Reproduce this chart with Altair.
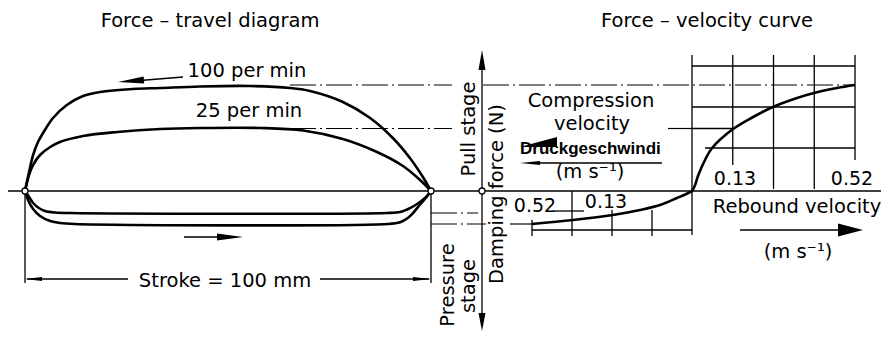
import altair as alt
import pandas as pd

# ---------------- data ----------------
# Force-travel loops: stroke (mm) vs damping force (N)
up100_stroke = [0, 1.0, 2.0, 3.2, 4.9, 6.9, 10.3, 14.3, 18.5, 26.6, 33.3, 43.1, 55.4, 65.3, 70.2, 78.3, 85.0, 90.6, 94.8, 98.0, 100]
up100_force = [0, 190, 360, 490, 610, 730, 860, 950, 990, 1020, 1030, 1045, 1050, 1030, 1000, 890, 730, 530, 330, 140, 0]
up25_stroke = [0, 1.0, 2.0, 3.7, 6.2, 8.6, 14.3, 22.7, 33.3, 43.1, 57.9, 68.5, 78.3, 86.7, 93.1, 97.3, 100]
up25_force = [0, 160, 260, 360, 440, 490, 550, 590, 620, 630, 630, 605, 520, 390, 250, 110, 0]
lo25_stroke = [0, 1.0, 2.0, 3.4, 4.9, 7.4, 11.1, 89.2, 92.4, 94.1, 95.8, 97.3, 98.8, 100]
lo25_force = [0, -60, -120, -170, -200, -215, -220, -220, -210, -185, -150, -110, -60, 0]
lo100_stroke = [0, 0.74, 2.0, 3.7, 6.2, 8.6, 12.3, 89.2, 92.4, 94.3, 95.6, 97.0, 98.5, 100]
lo100_force = [0, -90, -180, -250, -300, -320, -330, -330, -312, -270, -220, -150, -80, 0]

# Force-velocity curve: velocity (m/s, negative = compression) vs force (N)
fv_velocity = [-0.52, -0.387, -0.257, -0.169, -0.104, -0.049, -0.012, 0, 0.01, 0.019, 0.0415, 0.064, 0.131, 0.195, 0.258, 0.335, 0.389, 0.4625, 0.52]
fv_force = [-330, -290, -240, -190, -140, -70, -20, 0, 60, 150, 310, 430, 620, 740, 840, 930, 980, 1030, 1060]

grid_velocity = [0, 0.13, 0.26, 0.39, 0.52]
level_100 = 1060   # force level at 100 per min
level_25 = 625     # force level at 25 per min
level_lo25 = -220
level_lo100 = -330

# ---------------- layout (diagram coordinates) ----------------
def xs(s):  # stroke mm -> diagram x
    return 25 + 4.06 * s

def xv(v):  # velocity m/s -> diagram x
    return 692 + (313.5 if v >= 0 else 307.7) * v

def yf(F):  # force N -> diagram y
    return 191 - F / 10.0

curves = []
for name, S, F in [("up100", up100_stroke, up100_force), ("up25", up25_stroke, up25_force),
                   ("lo25", lo25_stroke, lo25_force), ("lo100", lo100_stroke, lo100_force)]:
    for i, (s, f) in enumerate(zip(S, F)):
        curves.append({"id": name, "i": i, "x": xs(s), "y": yf(f)})
for i, (v, f) in enumerate(zip(fv_velocity, fv_force)):
    curves.append({"id": "fv", "i": i, "x": xv(v), "y": yf(f)})
curves = pd.DataFrame(curves)

solid = [
    (8, yf(0), 881, yf(0)),                 # zero line
    (482, 56, 482, 326),                    # damping force axis
    (xs(0), yf(0), xs(0), 283), (xs(100), yf(0), xs(100), 283),
    (xs(0) + 2, 279, 128, 279), (320, 279, xs(100) - 2, 279),
    (183, 77, 140, 80.5),                   # arrow shaft 100 per min
    (184, 237, 222, 237),                   # arrow shaft under loops
    (740, 230, 845, 230),                   # rebound arrow shaft
    (530, 163, 662, 163),                   # compression arrow line
    (xv(0), yf(625), xv(0.13), yf(625)),
    (xv(0), yf(1250), xv(0.52), yf(1250)),
    (xv(0), yf(840), xv(0.52), yf(840)),
    (705, yf(430), xv(0.52), yf(430)),
    (xv(-0.52), yf(-390), xv(0), yf(-390)),
    (553, yf(-200), 584, yf(-200)),
]
pos_bottom = [235, 165, 189, 189, 160]
for v, b in zip(grid_velocity, pos_bottom):
    solid.append((xv(v), 55, xv(v), b))
neg_top = [191, 210, 210, 191, 220]
for v, t in zip(grid_velocity[1:], neg_top[1:]):
    solid.append((xv(-v), t, xv(-v), 236))
solid = pd.DataFrame(solid, columns=["x", "y", "x2", "y2"])

dashdot = pd.DataFrame([
    (290, yf(level_100), 452, yf(level_100)),
    (483, yf(level_100), xv(0.52), yf(level_100)),
    (290, yf(level_25), 452, yf(level_25)),
    (668, yf(level_25), xv(0), yf(level_25)),
    (xs(100), yf(level_lo25), 478, yf(level_lo25)),
    (xs(100), yf(level_lo100), 486, yf(level_lo100)),
    (510, yf(level_lo100), xv(-0.52), yf(level_lo100)),
], columns=["x", "y", "x2", "y2"])

def head(L, w):
    return f"M0,0L{w/2},{L}L{-w/2},{L}Z"

def harpoon(L, w):
    return f"M0,0L{w},{L}L0,{L}Z"

heads = pd.DataFrame([
    (482, 50, head(20, 7), 0),
    (482, 331, head(18, 7), 180),
    (118, 82, head(26, 7), 265.6),
    (243, 237, head(26, 7), 90),
    (xs(0), 279, head(17, 4), 270),
    (xs(100), 279, head(18, 4), 90),
    (863, 230, head(25, 13), 90),
    (520, 147, harpoon(37, 10), 270),
    (520, 163, head(20, 4), 270),
], columns=["x", "y", "path", "ang"])

dots = pd.DataFrame({"x": [xs(0), xs(100), 482], "y": [yf(0)] * 3})

texts = pd.DataFrame([
    ("Force – travel diagram", 210, 26.5, 19.5),
    ("Force – velocity curve", 707, 26.5, 19.5),
    ("100 per min", 247, 77, 19.5),
    ("25 per min", 249, 117, 19.5),
    ("Stroke = 100 mm", 225, 287, 19.5),
    ("Compression", 591, 107, 19.5),
    ("velocity", 592, 130, 19.5),
    ("(m s⁻¹)", 590, 178, 19.5),
    ("0.13", 735, 185, 19),
    ("0.52", 852, 185, 19),
    ("0.52", 535, 212, 19),
    ("0.13", 606, 208, 19),
    ("Rebound velocity", 797, 213, 19.5),
    ("(m s⁻¹)", 798, 258, 19.5),
], columns=["t", "x", "y", "fs"])

vtexts = pd.DataFrame([
    ("Pull stage", 475, 129),
    ("Damping force (N)", 503, 194),
    ("Pressure", 454, 285),
    ("stage", 475, 286),
], columns=["t", "x", "y"])

btext = pd.DataFrame([("Druckgeschwindi", 520, 154)], columns=["t", "x", "y"])

# ---------------- chart ----------------
XS = alt.Scale(domain=[8, 881], nice=False, zero=False)
YS = alt.Scale(domain=[8, 332], nice=False, zero=False, reverse=True)
X = alt.X("x:Q", scale=XS, axis=None)
Y = alt.Y("y:Q", scale=YS, axis=None)

rules_s = alt.Chart(solid).mark_rule(color="black", strokeWidth=1.3, strokeCap="butt").encode(
    x=X, y=Y, x2="x2:Q", y2="y2:Q")
rules_d = alt.Chart(dashdot).mark_rule(color="black", strokeWidth=1.2, strokeDash=[26, 4, 2, 4]).encode(
    x=X, y=Y, x2="x2:Q", y2="y2:Q")
lines = alt.Chart(curves).mark_line(color="black", strokeWidth=2.6, interpolate="catmull-rom").encode(
    x=X, y=Y, detail="id:N", order="i:Q")
arrows = alt.Chart(heads).mark_point(filled=True, color="black", opacity=1, size=4, strokeWidth=0).encode(
    x=X, y=Y, shape=alt.Shape("path:N", scale=None), angle=alt.Angle("ang:Q", scale=None))
circles = alt.Chart(dots).mark_point(shape="circle", size=36, filled=True, fill="white", stroke="black",
                                     strokeWidth=1.3, opacity=1).encode(x=X, y=Y)
txt = alt.Chart(texts).mark_text(font="DejaVu Sans", align="center", baseline="alphabetic", color="black").encode(
    x=X, y=Y, text="t:N", size=alt.Size("fs:Q", scale=None))
vtxt = alt.Chart(vtexts).mark_text(font="DejaVu Sans", fontSize=19.5, align="center", baseline="alphabetic",
                                   angle=270, color="black").encode(x=X, y=Y, text="t:N")
bt = alt.Chart(btext).mark_text(font="Liberation Sans", fontSize=17, fontWeight="bold", align="left",
                                baseline="alphabetic", color="black").encode(x=X, y=Y, text="t:N")

chart = alt.layer(rules_s, rules_d, lines, arrows, circles, txt, vtxt, bt).properties(
    width=873, height=324, autosize=alt.AutoSizeParams(type="none"), padding=0, background="white"
).configure_view(stroke=None)

chart.save("out.html", embed_options={"renderer": "svg", "actions": False})
